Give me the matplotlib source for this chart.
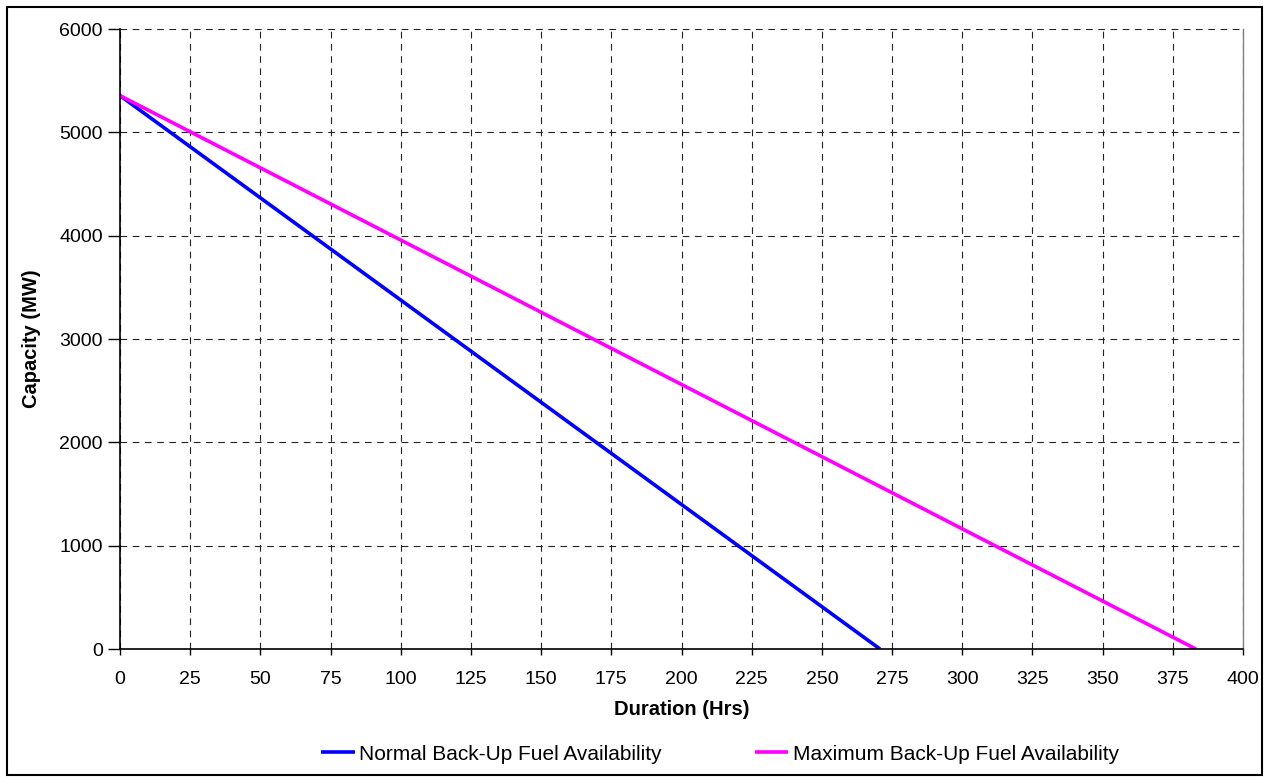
import matplotlib.pyplot as plt
from matplotlib.patches import Rectangle

# data
duration_normal = [0, 270.7]
capacity_normal = [5355, 0]
duration_max = [0, 383.2]
capacity_max = [5355, 0]

x_ticks = list(range(0, 401, 25))
y_ticks = list(range(0, 6001, 1000))

plt.rcParams['font.family'] = ['Liberation Sans', 'DejaVu Sans']

W, H = 1269, 782
fig = plt.figure(figsize=(W / 100, H / 100), dpi=100)
ax = fig.add_axes([120 / W, 1 - 649 / H, (1243 - 120) / W, (649 - 29) / H])

ax.plot(duration_normal, capacity_normal, color='#0000ff', lw=2.6,
        label='Normal Back-Up Fuel Availability', solid_capstyle='butt')
ax.plot(duration_max, capacity_max, color='#ff00ff', lw=2.6,
        label='Maximum Back-Up Fuel Availability', solid_capstyle='butt')

ax.set_xlim(0, 400)
ax.set_ylim(0, 6000)
ax.set_xticks(x_ticks)
ax.set_yticks(y_ticks)
ax.tick_params(axis='both', direction='out', width=1, labelsize=14, colors='black')
ax.tick_params(axis='x', length=4.5, pad=11)
ax.tick_params(axis='y', length=9, pad=3.5)

ax.grid(True, color='#222222', linestyle=(0, (6, 5)), linewidth=0.8)
ax.set_axisbelow(True)

ax.spines['top'].set_visible(False)
ax.spines['right'].set_color('#808080')
ax.spines['right'].set_linewidth(1)
for side in ['left', 'bottom']:
    ax.spines[side].set_color('black')
    ax.spines[side].set_linewidth(1.2)

ax.set_xlabel('Duration (Hrs)', fontsize=14.5, fontweight='bold', labelpad=9)
ax.set_ylabel('Capacity (MW)', fontsize=14.5, fontweight='bold', labelpad=13)

leg = fig.legend(loc='center', bbox_to_anchor=(720 / W, 1 - 754 / H), ncol=2,
                 frameon=False, fontsize=15, handlelength=1.6,
                 handletextpad=0.2, columnspacing=4.5)

# outer chart border
fig.patches.append(Rectangle((7 / W, 7 / H), 1 - 14 / W, 1 - 14 / H,
                             transform=fig.transFigure, fill=False,
                             edgecolor='black', linewidth=1.5))

fig.savefig('out.png', dpi=100)
